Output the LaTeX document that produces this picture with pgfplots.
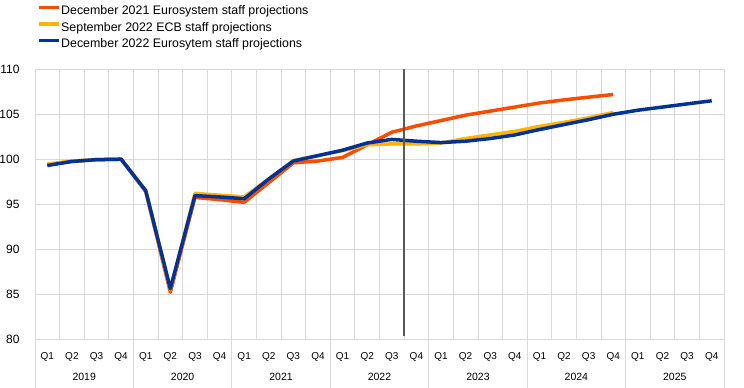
\documentclass[border=0pt]{standalone}
\usepackage{pgfplots}
\pgfplotsset{compat=1.18}
\usepackage{fontspec}
\setmainfont{Liberation Sans}
\definecolor{ecbred}{HTML}{FF4B00}
\definecolor{ecbyellow}{HTML}{FFB400}
\definecolor{ecbblue}{HTML}{003299}
\definecolor{gridgray}{HTML}{D9D9D9}
\definecolor{vlinegray}{HTML}{595959}
\begin{document}
\begin{tikzpicture}
\useasboundingbox (-35pt,-49pt) rectangle (709pt,339pt);
\begin{axis}[
  at={(0,0)}, anchor=south west,
  scale only axis, width=689pt, height=269.7pt,
  xmin=-0.5, xmax=27.5, ymin=80, ymax=110,
  axis line style={draw=none},
  xtick={0,...,27},
  xticklabels={Q1,Q2,Q3,Q4,Q1,Q2,Q3,Q4,Q1,Q2,Q3,Q4,Q1,Q2,Q3,Q4,Q1,Q2,Q3,Q4,Q1,Q2,Q3,Q4,Q1,Q2,Q3,Q4},
  minor xtick={-0.5,0.5,...,27.5},
  ytick={80,85,...,110},
  major tick length=0pt, minor tick length=0pt,
  xminorgrids=true, ymajorgrids=true, xmajorgrids=false,
  grid style={draw=gridgray, line width=0.8pt},
  minor grid style={draw=gridgray, line width=0.8pt},
  xticklabel style={font=\fontsize{10}{11}\selectfont, anchor=base, yshift=-20.3pt},
  yticklabel style={font=\fontsize{12}{13}\selectfont, anchor=east, xshift=-12pt},
  /pgf/number format/assume math mode=true,
  clip=false,
  legend cell align=left,
  legend style={at={(axis description cs:0,1)}, anchor=south west, xshift=2pt, yshift=18.5pt,
    draw=none, fill=none, font=\fontsize{12.4}{13}\selectfont, inner sep=0pt,
    row sep=4.6pt,
    nodes={inner sep=0pt, text height=9pt, text depth=3pt}},
  legend image code/.code={\draw[#1, line width=3.5pt] (0pt,4pt) -- (14pt,4pt); \path (0pt,4pt) -- (20.5pt,4pt);},
  every axis plot/.append style={line width=3.5pt, line join=round},
]
\addplot[ecbred] coordinates {
(0,99.4) (1,99.75) (2,99.95) (3,100.0) (4,96.4) (5,85.2) (6,95.75) (7,95.5) (8,95.2) (9,97.4) (10,99.6) (11,99.8) (12,100.2) (13,101.6) (14,103.0) (15,103.7) (16,104.3) (17,104.9) (18,105.35) (19,105.8) (20,106.25) (21,106.6) (22,106.9) (23,107.2)};
\addlegendentry{December 2021 Eurosystem staff projections}
\addplot[ecbyellow] coordinates {
(0,99.45) (1,99.8) (2,99.95) (3,100.0) (4,96.5) (5,85.5) (6,96.2) (7,96.0) (8,95.8) (9,97.8) (10,99.85) (11,100.4) (12,100.95) (13,101.6) (14,101.7) (15,101.7) (16,101.8) (17,102.3) (18,102.7) (19,103.1) (20,103.65) (21,104.1) (22,104.6) (23,105.2)};
\addlegendentry{September 2022 ECB staff projections}
\addplot[ecbblue] coordinates {
(0,99.3) (1,99.75) (2,99.95) (3,100.0) (4,96.5) (5,85.6) (6,95.95) (7,95.8) (8,95.6) (9,97.8) (10,99.8) (11,100.4) (12,101.0) (13,101.8) (14,102.2) (15,102.0) (16,101.85) (17,102.0) (18,102.3) (19,102.7) (20,103.3) (21,103.85) (22,104.4) (23,105.0) (24,105.45) (25,105.8) (26,106.15) (27,106.5)};
\addlegendentry{December 2022 Eurosytem staff projections}
\draw[vlinegray, line width=2pt] (axis cs:14.5,110) -- (axis cs:14.5,80.3);
\pgfplotsinvokeforeach{-0.5,3.5,7.5,11.5,15.5,19.5,23.5,27.5}{
  \draw[gridgray, line width=0.8pt] (axis cs:#1,80) -- ++(0pt,-49pt);
}
\node[anchor=base, inner sep=0pt, font=\fontsize{10.5}{12}\selectfont] at ([yshift=-41pt]axis cs:1.5,80) {2019};
\node[anchor=base, inner sep=0pt, font=\fontsize{10.5}{12}\selectfont] at ([yshift=-41pt]axis cs:5.5,80) {2020};
\node[anchor=base, inner sep=0pt, font=\fontsize{10.5}{12}\selectfont] at ([yshift=-41pt]axis cs:9.5,80) {2021};
\node[anchor=base, inner sep=0pt, font=\fontsize{10.5}{12}\selectfont] at ([yshift=-41pt]axis cs:13.5,80) {2022};
\node[anchor=base, inner sep=0pt, font=\fontsize{10.5}{12}\selectfont] at ([yshift=-41pt]axis cs:17.5,80) {2023};
\node[anchor=base, inner sep=0pt, font=\fontsize{10.5}{12}\selectfont] at ([yshift=-41pt]axis cs:21.5,80) {2024};
\node[anchor=base, inner sep=0pt, font=\fontsize{10.5}{12}\selectfont] at ([yshift=-41pt]axis cs:25.5,80) {2025};
\end{axis}
\end{tikzpicture}
\end{document}
